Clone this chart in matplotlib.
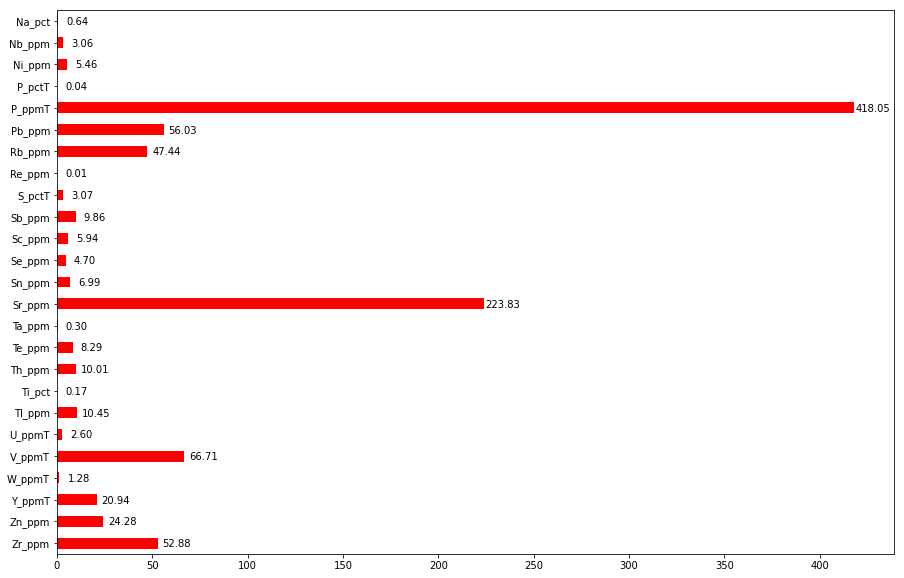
import matplotlib
matplotlib.use("Agg")
import matplotlib.pyplot as plt
import numpy as np

categories = ["Na_pct", "Nb_ppm", "Ni_ppm", "P_pctT", "P_ppmT", "Pb_ppm", "Rb_ppm",
              "Re_ppm", "S_pctT", "Sb_ppm", "Sc_ppm", "Se_ppm", "Sn_ppm", "Sr_ppm",
              "Ta_ppm", "Te_ppm", "Th_ppm", "Ti_pct", "Tl_ppm", "U_ppmT", "V_ppmT",
              "W_ppmT", "Y_ppmT", "Zn_ppm", "Zr_ppm"]
values = [0.64, 3.06, 5.46, 0.04, 418.05, 56.03, 47.44,
          0.01, 3.07, 9.86, 5.94, 4.70, 6.99, 223.83,
          0.30, 8.29, 10.01, 0.17, 10.45, 2.60, 66.71,
          1.28, 20.94, 24.28, 52.88]
xticks = [0, 50, 100, 150, 200, 250, 300, 350, 400]

W, H, DPI = 904, 578, 72
fig = plt.figure(figsize=(W / DPI, H / DPI), dpi=DPI)
ax = fig.add_axes([57 / W, (H - 554) / H, (894 - 57) / W, (554 - 10) / H])

pos = np.arange(len(categories))
ax.barh(pos, values, height=0.5, color="red")
ax.set_yticks(pos)
ax.set_yticklabels(categories, fontsize=10)
ax.set_ylim(len(categories) - 0.5, -0.5)
ax.set_xlim(0, max(values) * 1.05)
ax.set_xticks(xticks)
ax.tick_params(labelsize=10)

for p, v in zip(pos, values):
    ax.text(v + 10, p, f"{v:.2f}", ha="center", va="center_baseline", fontsize=10)

fig.savefig("out.png", dpi=DPI)
